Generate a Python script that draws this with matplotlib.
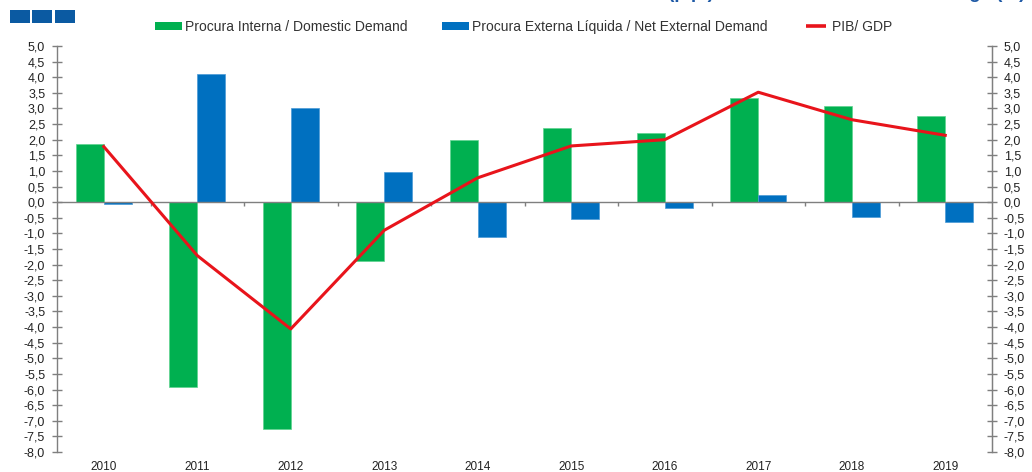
import matplotlib
matplotlib.use("Agg")
import matplotlib.pyplot as plt
from matplotlib.patches import Patch, Rectangle
from matplotlib.lines import Line2D
import numpy as np

plt.rcParams['font.family'] = ['Liberation Sans', 'DejaVu Sans']

years = ["2010", "2011", "2012", "2013", "2014", "2015", "2016", "2017", "2018", "2019"]
domestic = [1.87, -5.93, -7.25, -1.87, 2.0, 2.39, 2.2, 3.33, 3.08, 2.75]
external = [-0.06, 4.1, 3.03, 0.98, -1.1, -0.53, -0.2, 0.22, -0.47, -0.62]
gdp = [1.78, -1.71, -4.06, -0.9, 0.78, 1.8, 2.0, 3.52, 2.64, 2.14]
yticks = np.arange(-8.0, 5.01, 0.5)
ytick_labels = [f"{v:.1f}".replace(".", ",") for v in yticks]

GREEN = "#00B050"
BLUE = "#0070C0"
RED = "#E8141B"
GREY = "#7F7F7F"
TXT = "#222222"

fig = plt.figure(figsize=(10.32, 4.72), dpi=100)
ax = fig.add_axes([57/1032, 1-452/472, (992-57)/1032, (452-46)/472])

x = np.arange(len(years))
w = 0.3
ax.bar(x - w/2, domestic, width=w, color=GREEN, edgecolor="#5fd38f", linewidth=0.5, zorder=2)
ax.bar(x + w/2, external, width=w, color=BLUE, edgecolor="#4a9ad6", linewidth=0.5, zorder=2)
ax.plot(x, gdp, color=RED, lw=2.2, zorder=4, solid_joinstyle='round')

ax.set_xlim(-0.5, len(years) - 0.5)
ax.set_ylim(-8, 5)
ax.axhline(0, color=GREY, lw=1.0, zorder=3)
bounds = np.arange(0.5, len(years) - 0.5, 1.0)
ax.vlines(bounds, -0.13, 0, color=GREY, lw=1.0, zorder=3)

for s in ["top", "bottom"]:
    ax.spines[s].set_visible(False)
for s in ["left", "right"]:
    ax.spines[s].set_color(GREY)
    ax.spines[s].set_linewidth(1.0)

ax.set_xticks(x)
ax.set_xticklabels(years, fontsize=8.5, color=TXT)
ax.tick_params(axis="x", length=0, pad=6.5)

ax.set_yticks(yticks)
ax.set_yticklabels(ytick_labels, fontsize=9, color=TXT)
ax.tick_params(axis="y", direction="inout", length=7, width=1.0, color=GREY, pad=5)

ax2 = ax.twinx()
ax2.set_ylim(-8, 5)
ax2.set_yticks(yticks)
ax2.set_yticklabels(ytick_labels, fontsize=9, color=TXT)
ax2.tick_params(axis="y", direction="inout", length=7, width=1.0, color=GREY, pad=5)
for s in ["top", "bottom", "left"]:
    ax2.spines[s].set_visible(False)
ax2.spines["right"].set_color(GREY)

handles = [Patch(facecolor=GREEN, edgecolor="none"),
           Patch(facecolor=BLUE, edgecolor="none"),
           Line2D([0], [0], color=RED, lw=0, marker="_", markersize=14, markeredgewidth=2.6)]
labels = ["Procura Interna / Domestic Demand",
          "Procura Externa Líquida / Net External Demand",
          "PIB/ GDP"]
fig.legend(handles, labels, loc="center", bbox_to_anchor=(524/1032, 1-27/472), ncol=3,
           frameon=False, fontsize=10, handlelength=1.9, handleheight=0.55,
           handletextpad=0.25, columnspacing=2.5, labelcolor="#333333")

# header squares
for x0 in (10, 32, 55):
    fig.patches.append(Rectangle((x0/1032, 1-23/472), 20/1032, 13/472,
                                 transform=fig.transFigure, facecolor="#0B5AA2",
                                 edgecolor="none"))

# title, cropped at the top edge as in the reference
fig.text(1025/1032, 1 + 2/472, "Contributos (p.p.) / Contributions to GDP change (%)",
         ha="right", va="baseline", fontsize=13.5, fontweight="bold", color="#1F5AA6")

fig.savefig("out.png", dpi=100)
